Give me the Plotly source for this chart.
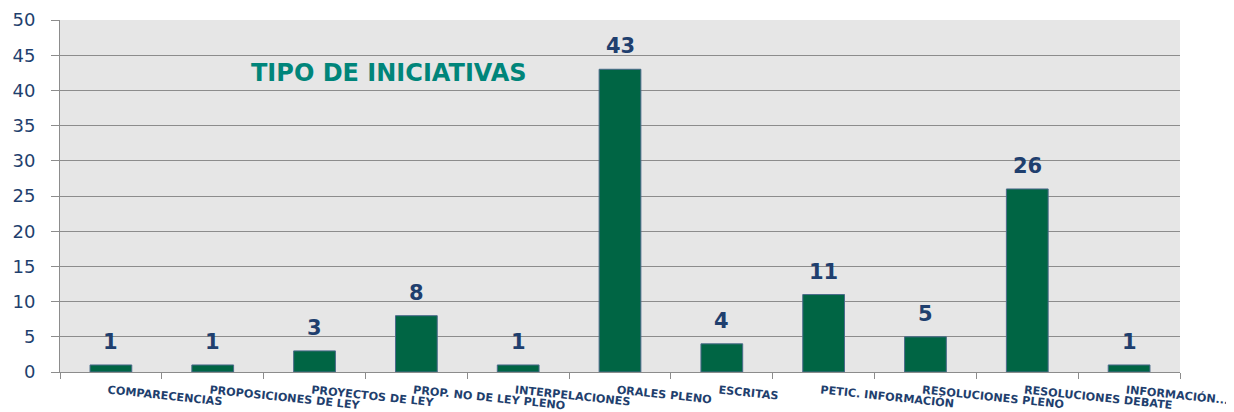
import plotly.graph_objects as go

categories = ["COMPARECENCIAS", "PROPOSICIONES DE LEY", "PROYECTOS DE LEY",
              "PROP. NO DE LEY PLENO", "INTERPELACIONES", "ORALES PLENO",
              "ESCRITAS", "PETIC. INFORMACIÓN", "RESOLUCIONES PLENO",
              "RESOLUCIONES DEBATE", "INFORMACIÓN..."]
values = [1, 1, 3, 8, 1, 43, 4, 11, 5, 26, 1]
y_ticks = [0, 5, 10, 15, 20, 25, 30, 35, 40, 45, 50]
title_text = "TIPO DE INICIATIVAS"

navy = "#1F3F6E"

fig = go.Figure()
fig.add_trace(go.Bar(
    x=categories, y=values,
    marker=dict(color="#006544", line=dict(color="#4A6A8A", width=1)),
))
annotations = [dict(
    x=c, y=v, xref="x", yref="y", text=str(v), showarrow=False,
    xanchor="center", yanchor="bottom", yshift=9,
    font=dict(family="DejaVu Sans", size=21, color=navy, weight="bold"),
) for c, v in zip(categories, values)]
annotations.append(dict(
    text=title_text, xref="paper", yref="paper", x=0.169, y=0.85,
    xanchor="left", yanchor="middle", showarrow=False,
    font=dict(family="DejaVu Sans", size=24, color="#00857A", weight="bold"),
))
fig.update_layout(
    width=1226, height=404,
    margin=dict(l=52, r=54, t=12, b=40, autoexpand=False),
    paper_bgcolor="white", plot_bgcolor="#E6E6E6",
    bargap=0.59, showlegend=False,
    xaxis=dict(
        type="category", tickangle=6, ticks="outside", tickson="boundaries",
        ticklen=6, tickcolor="#8C8C8C", showline=True, linecolor="#8C8C8C",
        showgrid=False, automargin=False, ticklabelstandoff=7,
        ticklabelshift=-3,
        tickfont=dict(family="DejaVu Sans", size=11.2, color=navy, weight="bold"),
    ),
    yaxis=dict(
        range=[0, 50], tickvals=y_ticks, ticks="outside", ticklen=8,
        tickcolor="#8C8C8C", showline=True, linecolor="#8C8C8C",
        gridcolor="#8C8C8C", gridwidth=1, zeroline=False, automargin=False,
        ticklabelstandoff=12,
        tickfont=dict(family="DejaVu Sans", size=18, color=navy),
    ),
    annotations=annotations,
)
fig.write_html("out.html")
